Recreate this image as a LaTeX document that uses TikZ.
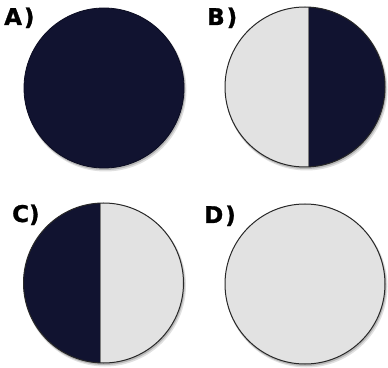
\documentclass[tikz,border=0pt]{standalone}
\usepackage{fontspec}
\newfontfamily\labelfont{DejaVu Sans Bold}[FakeBold=1.2]
\definecolor{navy}{RGB}{17,19,48}
\definecolor{paper}{RGB}{226,226,226}
\definecolor{rim}{RGB}{40,40,40}
\tikzset{
  disc/.style={circle, draw=none, minimum size=160pt, inner sep=0pt},
  tag/.style={anchor=base west, inner sep=0pt, font=\labelfont\fontsize{23pt}{23pt}\selectfont},
}
% soft shadow under a disc
\newcommand{\shadowdisc}[1]{%
  \fill[black, opacity=0.12] (#1.center) ++(1.5pt,-2.5pt) circle (81pt);
  \fill[black, opacity=0.18] (#1.center) ++(0.8pt,-1.5pt) circle (80.5pt);
}
\begin{document}
\begin{tikzpicture}[x=1pt,y=1pt]
\useasboundingbox (0,0) rectangle (388,367);
\fill[white] (0,0) rectangle (388,367);

% disc positions
\node[disc] (A) at (104,279) {};
\node[disc] (B) at (305,280) {};
\node[disc] (C) at (103.5,84) {};
\node[disc] (D) at (305,83) {};

\shadowdisc{A}\shadowdisc{B}\shadowdisc{C}\shadowdisc{D}

% A: fully dark
\fill[navy] (A.center) circle (80pt);
\draw[navy!70!black, line width=0.8pt] (A.center) circle (80pt);

% B: light left half, dark right half
\begin{scope}
  \clip (B.center) circle (80pt);
  \fill[paper] (B.center) circle (80pt);
  \fill[navy] ([xshift=3.5pt]B.south) rectangle ([xshift=90pt]B.north);
  \draw[rim!60, line width=0.8pt] ([xshift=3.5pt]B.north) -- ([xshift=3.5pt]B.south);
\end{scope}
\draw[rim, line width=1pt] (B.center) circle (80pt);

% C: dark left half, light right half
\begin{scope}
  \clip (C.center) circle (80pt);
  \fill[paper] (C.center) circle (80pt);
  \fill[navy] ([xshift=-3.5pt]C.south) rectangle ([xshift=-90pt]C.north);
  \draw[rim!60, line width=0.8pt] ([xshift=-3.5pt]C.north) -- ([xshift=-3.5pt]C.south);
\end{scope}
\draw[rim, line width=1pt] (C.center) circle (80pt);

% D: fully light
\fill[paper] (D.center) circle (80pt);
\draw[rim, line width=1pt] (D.center) circle (80pt);

% labels
\node[tag] (la) at (4,342) {A\kern2pt)};
\node[tag] (lb) at (207,342) {B\kern2pt)};
\node[tag] (lc) at (12,145) {C)};
\node[tag] (ld) at (204,144) {D\kern2pt)};
\end{tikzpicture}
\end{document}
